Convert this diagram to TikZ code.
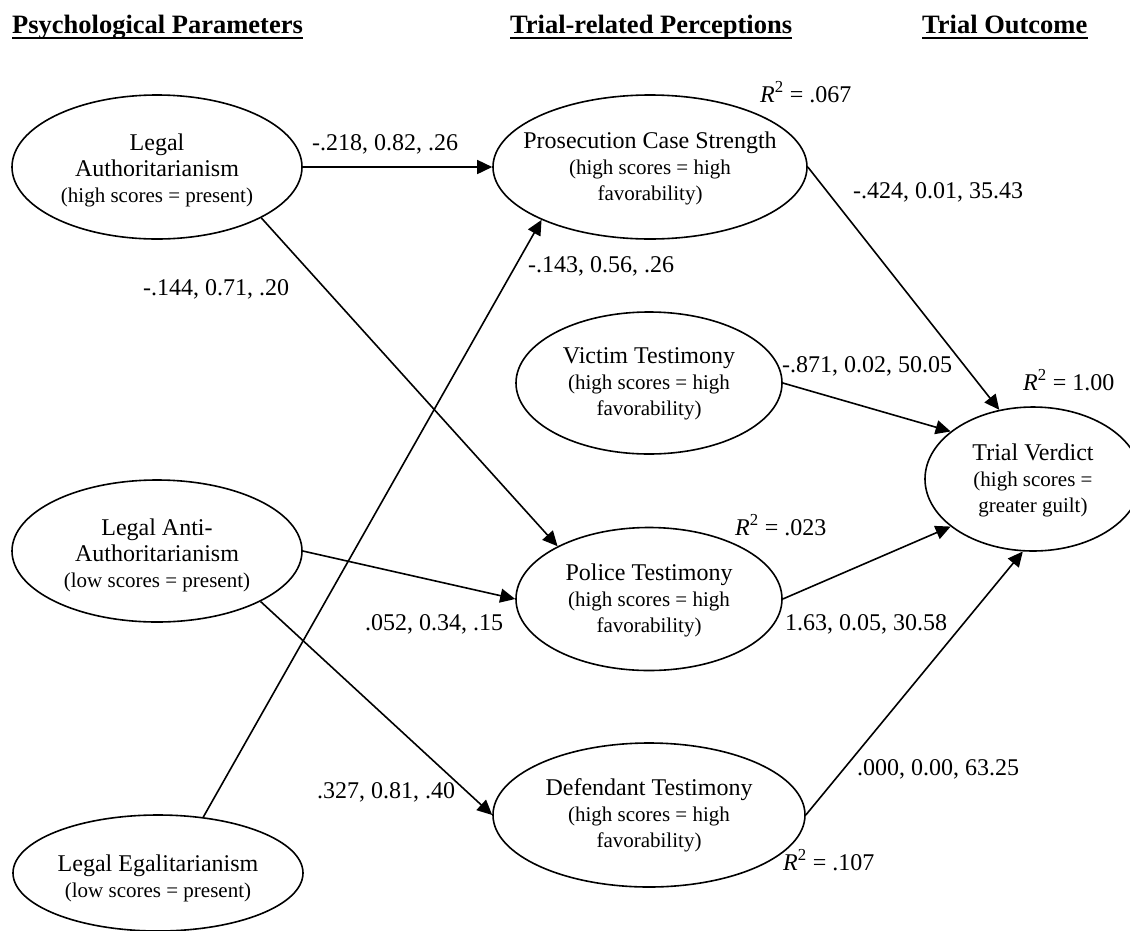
\documentclass[tikz,border=0pt]{standalone}
\usepackage{fontspec}
\setmainfont{Liberation Serif}
\usetikzlibrary{shapes.geometric,arrows.meta}
\newcommand{\subsz}{\fontsize{21}{25}\selectfont}
\newcommand{\Rsq}{\textit{R}\textsuperscript{2}}
\begin{document}
\begin{tikzpicture}[x=1pt,y=-1pt,
  ell/.style={draw, ellipse, line width=1.6pt, inner sep=0pt},
  % multi-line texts are placed by the baseline of their last line
  txt/.style={align=center, anchor=base, inner sep=0pt, font=\fontsize{24}{26}\selectfont},
  lbl/.style={anchor=base west, inner sep=0pt, font=\fontsize{24}{26}\selectfont},
  hdr/.style={anchor=base west, inner sep=0pt, font=\fontsize{26.5}{28}\selectfont\bfseries},
  uline/.style={line width=1.8pt},
  arr/.style={line width=1.6pt, -{Triangle[length=15pt,width=14pt]}}]
\useasboundingbox (0,0) rectangle (1130,930);
\clip (0,0) rectangle (1130,930);

% column headings
\node[hdr] (h1) at (12,33) {Psychological Parameters};
\node[hdr] (h2) at (510,33) {Trial-related Perceptions};
\node[hdr] (h3) at (922,33) {Trial Outcome};
\foreach \h in {h1,h2,h3}
  \draw[uline] ([yshift=-5pt]\h.base west) -- ([yshift=-5pt]\h.base east);

% latent variables
\node[ell, minimum width=290pt, minimum height=144pt] (la)  at (157,167) {};
\node[ell, minimum width=290pt, minimum height=142pt] (laa) at (157,551) {};
\node[ell, minimum width=290pt, minimum height=116pt] (le)  at (158,873) {};
\node[ell, minimum width=314pt, minimum height=144pt] (pcs) at (650,167) {};
\node[ell, minimum width=266pt, minimum height=142pt] (vt)  at (649,383) {};
\node[ell, minimum width=266pt, minimum height=143pt] (pt)  at (649,599) {};
\node[ell, minimum width=312pt, minimum height=144pt] (dt)  at (649,815) {};
\node[ell, minimum width=216pt, minimum height=144pt] (tv)  at (1033,479) {};

% texts inside the ellipses
\node[txt] (la-t)  at (157,202) {Legal\\Authoritarianism\\{\subsz (high scores = present)}};
\node[txt] (laa-t) at (157,587) {Legal Anti-\\Authoritarianism\\{\subsz (low scores = present)}};
\node[txt] (le-t)  at (158,897) {Legal Egalitarianism\\{\subsz (low scores = present)}};
\node[txt] (pcs-t) at (650,200) {Prosecution Case Strength\\{\subsz (high scores = high}\\{\subsz favorability)}};
\node[txt] (vt-t)  at (649,415) {Victim Testimony\\{\subsz (high scores = high}\\{\subsz favorability)}};
\node[txt] (pt-t)  at (649,632) {Police Testimony\\{\subsz (high scores = high}\\{\subsz favorability)}};
\node[txt] (dt-t)  at (649,847) {Defendant Testimony\\{\subsz (high scores = high}\\{\subsz favorability)}};
\node[txt] (tv-t)  at (1033,512) {Trial Verdict\\{\subsz (high scores =}\\{\subsz greater guilt)}};

% paths
\draw[arr] (la.east) -- (pcs.west);
\draw[arr] (la.-26.6) -- (pt.150.3);
\draw[arr] (le.51.5) -- (pcs.-154.3);
\draw[arr] (laa.east) -- (pt.west);
\draw[arr] (laa.-26.1) -- (dt.west);
\draw[arr] (pcs.east) -- (tv.116.6);
\draw[arr] (vt.east) -- (tv.150);
\draw[arr] (pt.east) -- (tv.-150);
\draw[arr] (dt.east) -- (tv.-98.6);

% path coefficients
\node[lbl] (c1) at (312,150) {-.218, 0.82, .26};
\node[lbl] (c2) at (143,295) {-.144, 0.71, .20};
\node[lbl] (c3) at (528,272) {-.143, 0.56, .26};
\node[lbl] (c4) at (853,198) {-.424, 0.01, 35.43};
\node[lbl] (c5) at (782,372) {-.871, 0.02, 50.05};
\node[lbl] (c6) at (365,630) {.052, 0.34, .15};
\node[lbl] (c7) at (785,630) {1.63, 0.05, 30.58};
\node[lbl] (c8) at (317,798) {.327, 0.81, .40};
\node[lbl] (c9) at (857,775) {.000, 0.00, 63.25};

% explained variance
\node[lbl] (r1) at (760,102) {\Rsq{} = .067};
\node[lbl] (r2) at (1023,390) {\Rsq{} = 1.00};
\node[lbl] (r3) at (735,535) {\Rsq{} = .023};
\node[lbl] (r4) at (783,870) {\Rsq{} = .107};
\end{tikzpicture}
\end{document}
